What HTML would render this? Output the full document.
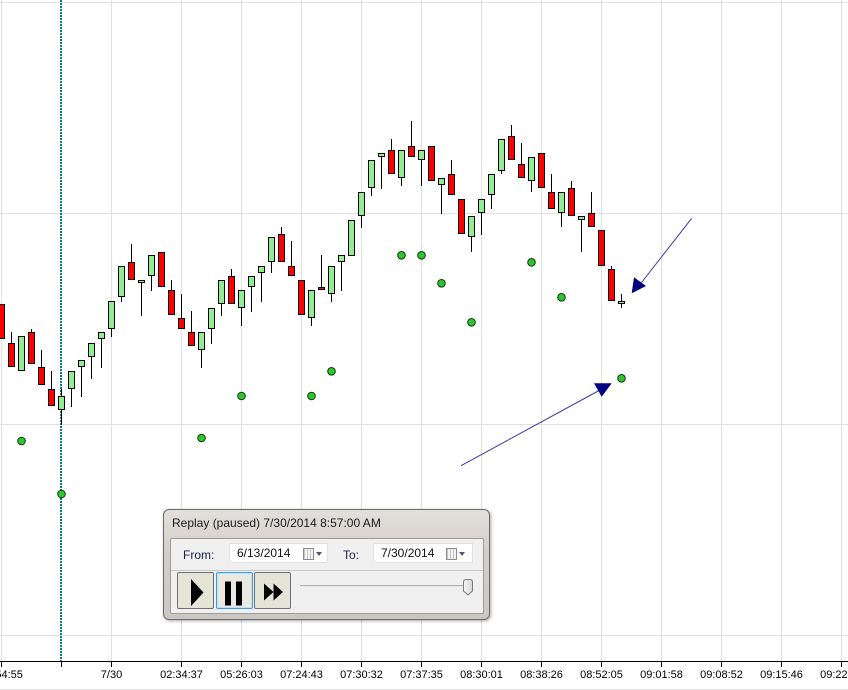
<!DOCTYPE html>
<html><head><meta charset="utf-8">
<style>
html,body{margin:0;padding:0;background:#fff;}
body{width:848px;height:690px;overflow:hidden;position:relative;font-family:"Liberation Sans",Arial,sans-serif;}
svg{position:absolute;left:0;top:0;}
.g{fill:#90ee90;stroke:#000;stroke-width:1}
.r{fill:#ff0000;stroke:#000;stroke-width:1}
.win{position:absolute;left:163px;top:509px;width:325px;height:109px;border:1px solid #6a6a6a;border-radius:6px;background:linear-gradient(#e3e0dc,#d2cec9 40%,#cbc7c2);box-shadow:1px 1px 3px rgba(0,0,0,0.35);}
.title{position:absolute;left:8px;top:6px;font-size:12px;color:#1a1a1a;white-space:nowrap;}
.panel{position:absolute;left:6px;top:28px;width:312px;height:74px;border:1px solid #9c9c9c;border-radius:2px;background:#f0f0f0;}
.lbl{position:absolute;font-size:12px;color:#1e1e4a;}
.date{position:absolute;top:4px;height:18px;background:#fff;border:1px solid #e2e2e2;font-size:12px;color:#111;}
.date span{position:absolute;left:7px;top:2px;}
.cal{position:absolute;top:4px;width:9px;height:10px;border:1px solid #8a8a8a;background:repeating-linear-gradient(90deg,#c8c8c8 0 1px,#f4f4f4 1px 3px);}
.arr{position:absolute;top:8px;width:0;height:0;border-left:3.5px solid transparent;border-right:3.5px solid transparent;border-top:4px solid #4a5a7a;}
.sep{position:absolute;left:0;top:31px;width:312px;height:1px;background:#c9c9c9;}
.btn{position:absolute;top:33px;width:35px;height:35px;border:1px solid #707070;border-radius:2px;background:#e5e5d7;}
</style></head><body>
<svg width="848" height="690" viewBox="0 0 848 690" xmlns="http://www.w3.org/2000/svg">
<g stroke="#e0e0e0" stroke-width="1">
<line x1="1.5" y1="0" x2="1.5" y2="661"/>
<line x1="111.5" y1="0" x2="111.5" y2="661"/>
<line x1="181.5" y1="0" x2="181.5" y2="661"/>
<line x1="241.5" y1="0" x2="241.5" y2="661"/>
<line x1="301.5" y1="0" x2="301.5" y2="661"/>
<line x1="361.5" y1="0" x2="361.5" y2="661"/>
<line x1="421.5" y1="0" x2="421.5" y2="661"/>
<line x1="481.5" y1="0" x2="481.5" y2="661"/>
<line x1="541.5" y1="0" x2="541.5" y2="661"/>
<line x1="601.5" y1="0" x2="601.5" y2="661"/>
<line x1="661.5" y1="0" x2="661.5" y2="661"/>
<line x1="721.5" y1="0" x2="721.5" y2="661"/>
<line x1="781.5" y1="0" x2="781.5" y2="661"/>
<line x1="841.5" y1="0" x2="841.5" y2="661"/>
<line x1="0" y1="2.5" x2="848" y2="2.5"/>
<line x1="0" y1="213.5" x2="848" y2="213.5"/>
<line x1="0" y1="424.5" x2="848" y2="424.5"/>
<line x1="0" y1="635.5" x2="848" y2="635.5"/>
<line x1="0" y1="689.5" x2="848" y2="689.5"/>
</g>
<line x1="61" y1="0" x2="61" y2="661" stroke="#008080" stroke-width="2" stroke-dasharray="2 1"/>
<!-- wicks -->
<path stroke="#000" stroke-width="1" fill="none" d="
M11.5 332V367 M31.5 329V364 M41.5 350V385 M51.5 371V406 M61.5 389V425 M71.5 371V407 M81.5 360V397 M91.5 343V379 M101.5 332V368
M111.5 301V337 M121.5 266V302 M131.5 244V280 M141.5 280V316 M151.5 255V291 M171.5 280V315 M181.5 294V329 M191.5 311V346
M201.5 332V368 M211.5 308V344 M221.5 280V316 M231.5 269V304 M241.5 290V326 M251.5 276V312 M261.5 266V302 M271.5 237V273
M281.5 227V262 M291.5 241V276 M311.5 290V326 M321.5 255V290 M331.5 266V302 M341.5 255V291 M361.5 192V228 M371.5 160V196
M381.5 153V189 M391.5 139V174 M401.5 150V186 M411.5 121V157 M421.5 150V186 M441.5 178V214 M451.5 160V195 M471.5 216V252
M481.5 199V235 M491.5 174V209 M501.5 139V174 M511.5 125V160 M521.5 143V178 M531.5 157V192 M551.5 174V209 M561.5 192V227
M571.5 181V216 M581.5 216V252 M591.5 192V227 M611.5 266V301 M621.5 294V308"/>
<!-- bodies -->
<rect class="r" x="-1.5" y="304.5" width="6" height="34"/>
<rect class="r" x="8.5" y="343.5" width="6" height="23"/>
<rect class="g" x="18.5" y="336.5" width="6" height="34"/>
<rect class="r" x="28.5" y="332.5" width="6" height="31"/>
<rect class="r" x="38.5" y="367.5" width="6" height="17"/>
<rect class="r" x="48.5" y="389.5" width="6" height="16"/>
<rect class="g" x="58.5" y="396.5" width="6" height="13"/>
<rect class="g" x="68.5" y="371.5" width="6" height="17"/>
<rect class="g" x="78.5" y="360.5" width="6" height="6"/>
<rect class="g" x="88.5" y="343.5" width="6" height="13"/>
<rect class="g" x="98.5" y="332.5" width="6" height="6"/>
<rect class="g" x="108.5" y="301.5" width="6" height="27"/>
<rect class="g" x="118.5" y="266.5" width="6" height="30"/>
<rect class="r" x="128.5" y="262.5" width="6" height="17"/>
<rect class="g" x="138.5" y="280.5" width="6" height="2"/>
<rect class="g" x="148.5" y="255.5" width="6" height="20"/>
<rect class="r" x="158.5" y="252.5" width="6" height="34"/>
<rect class="r" x="168.5" y="290.5" width="6" height="24"/>
<rect class="r" x="178.5" y="318.5" width="6" height="10"/>
<rect class="r" x="188.5" y="332.5" width="6" height="13"/>
<rect class="g" x="198.5" y="332.5" width="6" height="17"/>
<rect class="g" x="208.5" y="308.5" width="6" height="20"/>
<rect class="g" x="218.5" y="280.5" width="6" height="23"/>
<rect class="r" x="228.5" y="276.5" width="6" height="27"/>
<rect class="g" x="238.5" y="290.5" width="6" height="17"/>
<rect class="g" x="248.5" y="276.5" width="6" height="10"/>
<rect class="g" x="258.5" y="266.5" width="6" height="6"/>
<rect class="g" x="268.5" y="237.5" width="6" height="24"/>
<rect class="r" x="278.5" y="234.5" width="6" height="27"/>
<rect class="r" x="288.5" y="266.5" width="6" height="9"/>
<rect class="r" x="298.5" y="280.5" width="6" height="34"/>
<rect class="g" x="308.5" y="290.5" width="6" height="27"/>
<rect class="r" x="318.5" y="287.5" width="6" height="2"/>
<rect class="g" x="328.5" y="266.5" width="6" height="27"/>
<rect class="g" x="338.5" y="255.5" width="6" height="6"/>
<rect class="g" x="348.5" y="220.5" width="6" height="35"/>
<rect class="g" x="358.5" y="192.5" width="6" height="23"/>
<rect class="g" x="368.5" y="160.5" width="6" height="27"/>
<rect class="g" x="378.5" y="153.5" width="6" height="3"/>
<rect class="r" x="388.5" y="150.5" width="6" height="23"/>
<rect class="g" x="398.5" y="150.5" width="6" height="27"/>
<rect class="r" x="408.5" y="146.5" width="6" height="10"/>
<rect class="g" x="418.5" y="150.5" width="6" height="9"/>
<rect class="r" x="428.5" y="146.5" width="6" height="34"/>
<rect class="g" x="438.5" y="178.5" width="6" height="6"/>
<rect class="r" x="448.5" y="174.5" width="6" height="20"/>
<rect class="r" x="458.5" y="199.5" width="6" height="34"/>
<rect class="g" x="468.5" y="216.5" width="6" height="20"/>
<rect class="g" x="478.5" y="199.5" width="6" height="13"/>
<rect class="g" x="488.5" y="174.5" width="6" height="20"/>
<rect class="g" x="498.5" y="139.5" width="6" height="31"/>
<rect class="r" x="508.5" y="136.5" width="6" height="23"/>
<rect class="r" x="518.5" y="164.5" width="6" height="13"/>
<rect class="g" x="528.5" y="157.5" width="6" height="23"/>
<rect class="r" x="538.5" y="153.5" width="6" height="34"/>
<rect class="r" x="548.5" y="192.5" width="6" height="16"/>
<rect class="g" x="558.5" y="192.5" width="6" height="20"/>
<rect class="r" x="568.5" y="188.5" width="6" height="27"/>
<rect class="g" x="578.5" y="216.5" width="6" height="3"/>
<rect class="r" x="588.5" y="213.5" width="6" height="13"/>
<rect class="r" x="598.5" y="230.5" width="6" height="35"/>
<rect class="r" x="608.5" y="269.5" width="6" height="31"/>
<rect class="g" x="618.5" y="301.5" width="6" height="2"/>
<!-- dots -->
<g fill="#2ec52e" stroke="#0a3a0a" stroke-width="1">
<circle cx="21.5" cy="441" r="3.8"/>
<circle cx="61.5" cy="494" r="3.8"/>
<circle cx="201.5" cy="438" r="3.8"/>
<circle cx="241.5" cy="396" r="3.8"/>
<circle cx="311.5" cy="396" r="3.8"/>
<circle cx="331.5" cy="371.3" r="3.8"/>
<circle cx="401.5" cy="255.3" r="3.8"/>
<circle cx="421.5" cy="255.3" r="3.8"/>
<circle cx="441.5" cy="283.3" r="3.8"/>
<circle cx="471.5" cy="322.3" r="3.8"/>
<circle cx="531.5" cy="262.3" r="3.8"/>
<circle cx="561.5" cy="297.3" r="3.8"/>
<circle cx="621.5" cy="378.3" r="3.8"/>
</g>
<!-- arrows -->
<line x1="691.7" y1="218.3" x2="638" y2="287" stroke="#3a3aaa" stroke-width="1"/>
<polygon points="634,277.3 646,286 631.7,293.3" fill="#000080"/>
<line x1="461" y1="465.7" x2="600" y2="390" stroke="#3a3aaa" stroke-width="1"/>
<polygon points="594,383.3 611.7,383.3 601.7,396.7" fill="#000080"/>
<!-- axis -->
<line x1="0" y1="661.5" x2="848" y2="661.5" stroke="#000" stroke-width="1"/>
<path stroke="#000" stroke-width="1" d="M1.5 661V667 M61.5 661V667 M111.5 661V667 M181.5 661V667 M241.5 661V667 M301.5 661V667 M361.5 661V667 M421.5 661V667 M481.5 661V667 M541.5 661V667 M601.5 661V667 M661.5 661V667 M721.5 661V667 M781.5 661V667 M841.5 661V667"/>
<g font-family="Liberation Sans, Arial, sans-serif" font-size="11" fill="#000" text-anchor="middle">
<text x="1.5" y="678">04:54:55</text>
<text x="111.5" y="678">7/30</text>
<text x="181.5" y="678">02:34:37</text>
<text x="241.5" y="678">05:26:03</text>
<text x="301.5" y="678">07:24:43</text>
<text x="361.5" y="678">07:30:32</text>
<text x="421.5" y="678">07:37:35</text>
<text x="481.5" y="678">08:30:01</text>
<text x="541.5" y="678">08:38:26</text>
<text x="601.5" y="678">08:52:05</text>
<text x="661.5" y="678">09:01:58</text>
<text x="721.5" y="678">09:08:52</text>
<text x="781.5" y="678">09:15:46</text>
<text x="841.5" y="678">09:22:40</text>
</g>
</svg>

<div class="win">
  <div class="title">Replay (paused) 7/30/2014 8:57:00 AM</div>
  <div class="panel">
    <div class="lbl" style="left:12px;top:9px;">From:</div>
    <div class="date" style="left:58px;width:97px;"><span>6/13/2014</span>
      <div class="cal" style="left:73px;"></div><div class="arr" style="left:86px;"></div></div>
    <div class="lbl" style="left:172px;top:9px;">To:</div>
    <div class="date" style="left:202px;width:98px;"><span>7/30/2014</span>
      <div class="cal" style="left:72px;"></div><div class="arr" style="left:85px;"></div></div>
    <div class="sep"></div>
    <div class="btn" style="left:6px;">
      <svg width="35" height="35" style="position:absolute;left:0;top:0"><polygon points="13,6 25.5,19.5 13,33" fill="#000"/></svg>
    </div>
    <div class="btn" style="left:45px;border-color:#3c9ee6;background:#e9e9df;box-shadow:inset 0 0 0 1px #bfe0f7;">
      <svg width="35" height="35" style="position:absolute;left:0;top:0"><rect x="8" y="8.5" width="6" height="24" fill="#000"/><rect x="19" y="8.5" width="6" height="24" fill="#000"/></svg>
    </div>
    <div class="btn" style="left:83px;">
      <svg width="35" height="35" style="position:absolute;left:0;top:0"><polygon points="9,10.5 18.5,19 9,27.5" fill="#000"/><polygon points="18.5,10.5 28,19 18.5,27.5" fill="#000"/></svg>
    </div>
    <div style="position:absolute;left:129px;top:46px;width:168px;height:1px;background:#b2b2b2;"></div>
    <div style="position:absolute;left:129px;top:47px;width:168px;height:1px;background:#e6e6e6;"></div>
    <svg width="14" height="20" style="position:absolute;left:291px;top:40px;">
      <defs><linearGradient id="tg" x1="0" y1="0" x2="1" y2="0"><stop offset="0" stop-color="#f6f6f6"/><stop offset="1" stop-color="#d6d6d6"/></linearGradient></defs>
      <path d="M1.5 3 Q1.5 0.5 4 0.5 H8 Q10.5 0.5 10.5 3 V12 L6 16 L1.5 12 Z" fill="url(#tg)" stroke="#7a7a7a" stroke-width="1"/>
    </svg>
  </div>
</div>
</body></html>
